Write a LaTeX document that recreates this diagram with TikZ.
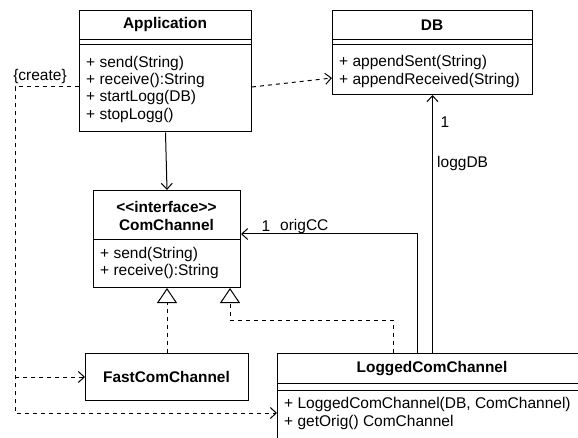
\documentclass[tikz,border=0pt]{standalone}
\usepackage{fontspec}
\setmainfont{Liberation Sans}
\usetikzlibrary{arrows.meta,calc}
\begin{document}
\begin{tikzpicture}[x=1pt,y=-1pt,
  box/.style={draw, line width=1pt, anchor=north west, inner sep=0pt},
  mtext/.style={anchor=west, inner sep=0pt, font=\fontsize{15.5}{17}\selectfont},
  ttext/.style={inner sep=0pt, font=\fontsize{15.4}{17}\selectfont\bfseries},
  lbl/.style={inner sep=0pt, font=\fontsize{15.5}{17}\selectfont},
  sep/.style={line width=1pt},
  dep/.style={line width=1pt, dash pattern=on 4pt off 4pt, -{Straight Barb[length=6pt,width=11pt]}},
  assoc/.style={line width=1pt, -{Straight Barb[length=6pt,width=11pt]}},
  real/.style={line width=1pt, dash pattern=on 4pt off 4pt, -{Triangle[open,length=15pt,width=20pt,fill=white]}},
]
\fill[white] (0,0) rectangle (578,438);
\useasboundingbox (0,0) rectangle (578,438);
\clip (0,0) rectangle (578,438);

% Application
\node[box, minimum width=172pt, minimum height=121.5pt] (app) at (79,10) {};
\draw[sep] ($(app.north west)+(0,29.5)$) -- ($(app.north east)+(0,29.5)$);
\draw[sep] ($(app.north west)+(0,34.5)$) -- ($(app.north east)+(0,34.5)$);
\node[ttext] (appT) at (165,25) {Application};
\node[mtext] (appM1) at (86,63) {+ send(String)};
\node[mtext] (appM2) at (86,80) {+ receive():String};
\node[mtext] (appM3) at (86,97.5) {+ startLogg(DB)};
\node[mtext] (appM4) at (86,115) {+ stopLogg()};

% DB
\node[box, minimum width=200pt, minimum height=84pt] (db) at (332,10) {};
\draw[sep] ($(db.north west)+(0,29.5)$) -- ($(db.north east)+(0,29.5)$);
\draw[sep] ($(db.north west)+(0,34.5)$) -- ($(db.north east)+(0,34.5)$);
\node[ttext] (dbT) at (432,25) {DB};
\node[mtext] (dbM1) at (339,62) {+ appendSent(String)};
\node[mtext] (dbM2) at (339,80) {+ appendReceived(String)};

% ComChannel
\node[box, minimum width=147pt, minimum height=97pt] (cc) at (93,190) {};
\draw[sep] ($(cc.north west)+(0,50)$) -- ($(cc.north east)+(0,50)$);
\node[ttext] (ccS) at (166.5,207) {<{}<interface>{}>};
\node[ttext] (ccT) at (166.5,225) {ComChannel};
\node[mtext] (ccM1) at (100,254) {+ send(String)};
\node[mtext] (ccM2) at (100,271) {+ receive():String};

% FastComChannel
\node[box, minimum width=163pt, minimum height=47pt] (fcc) at (85,353) {};
\node[ttext] (fccT) at (166.5,377) {FastComChannel};

% LoggedComChannel
\node[box, minimum width=310pt, minimum height=110pt] (lcc) at (277,353) {};
\draw[sep] ($(lcc.north west)+(0,30)$) -- ($(lcc.north east)+(0,30)$);
\draw[sep] ($(lcc.north west)+(0,37)$) -- ($(lcc.north east)+(0,37)$);
\node[ttext] (lccT) at (432,369) {LoggedComChannel};
\node[mtext] (lccM1) at (284,404) {+ LoggedComChannel(DB, ComChannel)};
\node[mtext] (lccM2) at (284,422) {+ getOrig() ComChannel};

% Connectors
\draw[assoc] (app.south) -- (cc.north);
\draw[dep] ($(app.north east)+(0,77)$) -- ($(db.north west)+(0,68)$);
\draw[dep] ($(app.north west)+(0,77)$) -- (15,87) -- (15,413) -- ($(lcc.north west)+(0,60)$);
\draw[dep] ($(fcc.west)+(-70,0)$) -- (fcc.west);
\node[lbl] (create) at (40,76) {\{create\}};

\draw[assoc] (lcc.north) -- (db.south);
\node[lbl] (one1) at (445,122) {1};
\node[lbl, anchor=west] (loggDB) at (437,163) {loggDB};

\draw[assoc] ($(lcc.north west)+(140,0)$) |- ($(cc.north east)+(0,44)$);
\node[lbl] (one2) at (266,226) {1};
\node[lbl, anchor=west] (origCC) at (280,226) {origCC};

\draw[real] (fcc.north) -- (cc.south);
\draw[real] ($(lcc.north west)+(116,0)$) |- ($(cc.south east)+(-11,32)$) -- ($(cc.south east)+(-11,0)$);
\end{tikzpicture}
\end{document}
